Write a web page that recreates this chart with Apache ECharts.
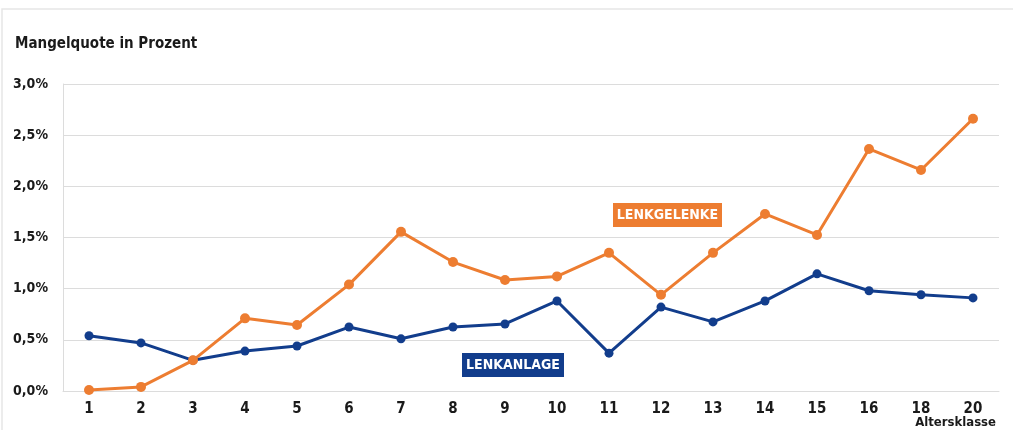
<!DOCTYPE html>
<html>
<head>
<meta charset="utf-8">
<script src="https://cdn.jsdelivr.net/npm/echarts@6/dist/echarts.min.js"></script>
<style>
  html, body { margin: 0; padding: 0; background: #fff; }
  #chart { width: 1013px; height: 430px; }
</style>
</head>
<body>
<div id="chart"></div>
<script>
var categories = ['1', '2', '3', '4', '5', '6', '7', '8', '9', '10', '11', '12', '13', '14', '15', '16', '18', '20'];
var lenkgelenke = [0.01, 0.04, 0.30, 0.71, 0.645, 1.04, 1.555, 1.26, 1.085, 1.12, 1.35, 0.94, 1.35, 1.73, 1.525, 2.365, 2.16, 2.66];
var lenkanlage = [0.54, 0.47, 0.30, 0.39, 0.44, 0.625, 0.51, 0.625, 0.655, 0.88, 0.37, 0.82, 0.675, 0.88, 1.145, 0.98, 0.94, 0.91];

var font = "'Liberation Sans Narrow', 'DejaVu Sans Condensed', sans-serif";
var orange = '#ed7d31';
var blue = '#123d8c';

var chart = echarts.init(document.getElementById('chart'));
chart.setOption({
  animation: false,
  grid: { left: 63, right: 14, top: 84, bottom: 39, containLabel: false },
  xAxis: {
    type: 'category',
    data: categories,
    boundaryGap: true,
    axisLine: { show: true, lineStyle: { color: '#dcdcdc', width: 1 } },
    axisTick: { show: false },
    axisLabel: { color: '#1a1a1a', fontFamily: font, fontWeight: 'bold', fontSize: 15, margin: 11 }
  },
  yAxis: {
    type: 'value',
    min: 0,
    max: 3,
    interval: 0.5,
    axisLine: { show: true, lineStyle: { color: '#dcdcdc', width: 1 } },
    axisTick: { show: false },
    splitLine: { lineStyle: { color: '#dcdcdc', width: 1 } },
    axisLabel: {
      color: '#1a1a1a', fontFamily: font, fontWeight: 'bold', fontSize: 14, margin: 15,
      formatter: function (v) { return v.toFixed(1).replace('.', ',') + '%'; }
    }
  },
  series: [
    {
      name: 'LENKANLAGE',
      type: 'line',
      data: lenkanlage,
      symbol: 'circle',
      symbolSize: 9,
      lineStyle: { color: blue, width: 3 },
      itemStyle: { color: blue }
    },
    {
      name: 'LENKGELENKE',
      type: 'line',
      data: lenkgelenke,
      symbol: 'circle',
      symbolSize: 10,
      lineStyle: { color: orange, width: 3 },
      itemStyle: { color: orange }
    }
  ],
  graphic: [
    {
      type: 'rect', silent: true,
      shape: { x: 2, y: 9, width: 1040, height: 450 },
      style: { fill: 'none', stroke: '#e6e6e6', lineWidth: 1.5 }
    },
    {
      type: 'text', left: 15, top: 37,
      style: { text: 'Mangelquote in Prozent', fill: '#1a1a1a', font: 'bold 15px ' + font }
    },
    {
      type: 'text', right: 17, top: 416,
      style: { text: 'Altersklasse', fill: '#1a1a1a', font: 'bold 13px ' + font }
    },
    {
      type: 'rect', shape: { x: 613, y: 203, width: 109, height: 24 },
      style: { fill: orange }
    },
    {
      type: 'text', x: 667.5, y: 215,
      style: { text: 'LENKGELENKE', fill: '#fff', font: 'bold 14px ' + font, align: 'center', verticalAlign: 'middle' }
    },
    {
      type: 'rect', shape: { x: 462, y: 353, width: 102, height: 24 },
      style: { fill: blue }
    },
    {
      type: 'text', x: 513, y: 365,
      style: { text: 'LENKANLAGE', fill: '#fff', font: 'bold 14px ' + font, align: 'center', verticalAlign: 'middle' }
    }
  ]
});
</script>
</body>
</html>
